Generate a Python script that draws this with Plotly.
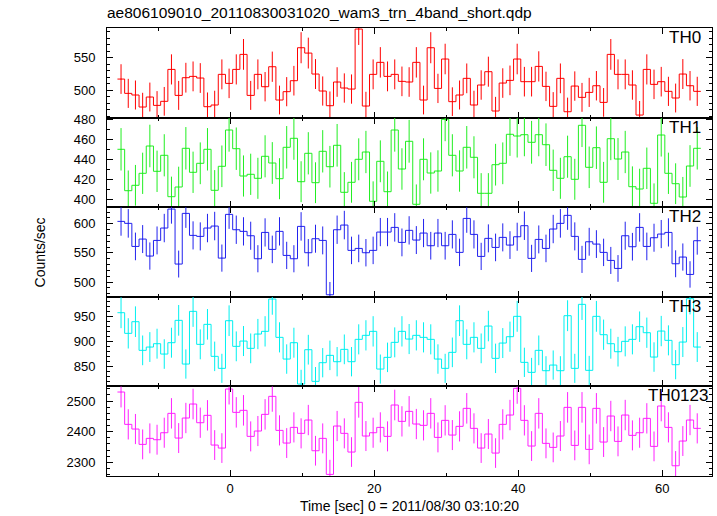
import numpy as np
import plotly.graph_objects as go
from plotly.subplots import make_subplots

# time bins (1 s wide), bin left edges start at -15.65 s
bin_start = -15.65
n_bins = 81

th0 = [517.3, 495.4, 492.9, 474.5, 489.8, 477.0, 483.2, 532.1, 492.3, 519.4,
       521.4, 518.9, 475.0, 477.6, 524.5, 510.7, 532.1, 555.1, 492.3, 524.5,
       505.6, 536.2, 485.2, 498.0, 514.8, 565.3, 557.1, 525.0, 499.0, 476.5,
       512.8, 503.6, 502.0, 593.9, 476.0, 524.5, 542.9, 521.4, 524.5, 513.8,
       512.8, 542.9, 485.2, 565.3, 503.0, 548.0, 482.7, 492.9, 518.4, 477.6,
       508.2, 528.6, 468.4, 511.2, 515.3, 548.0, 513.3, 513.3, 536.7, 506.1,
       475.5, 518.4, 467.3, 506.6, 489.3, 496.9, 507.1, 481.6, 555.1, 524.5,
       524.5, 508.2, 462.2, 532.1, 509.2, 513.3, 498.5, 488.3, 525.0, 507.1,
       498.5]

th1 = [450.0, 408.6, 414.0, 426.0, 453.3, 428.0, 444.0, 402.6, 412.3, 451.0,
       427.0, 436.0, 450.0, 409.0, 433.0, 469.3, 450.6, 423.3, 425.0, 421.0,
       443.0, 436.3, 420.6, 452.0, 461.0, 417.6, 446.0, 416.6, 448.0, 432.6,
       454.0, 407.0, 417.0, 440.0, 447.3, 398.0, 438.0, 407.6, 469.3, 430.3,
       458.0, 395.0, 440.0, 426.3, 428.3, 480.0, 444.0, 428.3, 452.0, 442.0,
       406.0, 406.0, 434.6, 436.0, 465.0, 463.3, 464.6, 457.0, 464.6, 454.6,
       429.0, 421.0, 442.6, 420.0, 474.0, 432.0, 451.6, 417.0, 460.6, 440.3,
       447.3, 412.6, 410.3, 431.0, 396.0, 464.3, 426.0, 415.6, 402.3, 433.3,
       451.0]

th2 = [604.0, 600.6, 561.1, 573.7, 544.6, 571.4, 592.6, 625.1, 530.9, 617.7,
       580.0, 578.3, 592.6, 596.0, 541.1, 616.0, 589.7, 586.9, 579.4, 540.0,
       585.1, 556.0, 586.9, 545.7, 540.0, 595.4, 550.3, 574.3, 571.4, 478.3,
       589.7, 597.7, 554.3, 557.7, 550.3, 554.3, 585.7, 585.7, 593.7, 568.0,
       588.6, 572.0, 584.0, 562.3, 584.0, 562.3, 581.7, 550.9, 609.1, 581.7,
       544.0, 574.9, 559.4, 576.6, 563.4, 577.7, 596.6, 540.6, 573.1, 557.7,
       590.9, 600.6, 614.3, 578.3, 538.9, 569.1, 565.1, 550.9, 537.1, 523.4,
       579.4, 560.6, 593.7, 561.1, 576.0, 582.3, 585.1, 531.4, 542.9, 513.1,
       570.9]

th3 = [958.0, 916.7, 940.0, 882.7, 889.3, 896.0, 875.3, 898.0, 942.7, 855.3,
       960.7, 894.7, 934.7, 870.7, 846.7, 942.0, 890.7, 901.3, 886.7, 915.3,
       920.7, 985.3, 908.7, 865.3, 898.0, 815.3, 884.0, 820.7, 858.0, 872.7,
       860.0, 884.7, 860.0, 904.7, 912.7, 920.7, 845.3, 868.7, 898.7, 920.7,
       905.3, 912.7, 908.7, 904.7, 865.3, 846.7, 878.7, 942.0, 894.7, 908.7,
       886.7, 931.3, 866.7, 897.3, 910.0, 950.7, 858.7, 838.7, 882.7, 842.0,
       853.3, 842.0, 952.0, 846.7, 974.7, 842.7, 950.7, 914.0, 896.0, 880.0,
       900.7, 904.7, 930.0, 918.0, 869.3, 921.3, 902.7, 854.0, 899.3, 986.0,
       889.3]

th0123 = [2529.3, 2423.9, 2408.7, 2358.7, 2378.3, 2373.9, 2396.7, 2459.8, 2379.3, 2444.6,
          2490.2, 2429.3, 2453.3, 2356.5, 2346.7, 2539.1, 2463.0, 2469.6, 2384.8, 2402.2,
          2456.5, 2515.2, 2404.3, 2363.0, 2414.1, 2394.6, 2438.0, 2338.0, 2378.3, 2260.9,
          2418.5, 2394.6, 2333.7, 2495.7, 2385.9, 2396.7, 2414.1, 2384.8, 2487.0, 2433.7,
          2466.3, 2425.0, 2420.7, 2459.8, 2381.5, 2437.0, 2389.1, 2417.4, 2476.1, 2410.9,
          2346.7, 2392.4, 2330.4, 2423.9, 2454.3, 2541.3, 2437.0, 2353.3, 2459.8, 2362.0,
          2348.9, 2385.9, 2479.3, 2355.4, 2479.3, 2342.4, 2476.1, 2366.3, 2451.1, 2368.5,
          2454.3, 2388.0, 2396.7, 2443.5, 2352.2, 2483.7, 2414.1, 2289.1, 2369.6, 2438.0,
          2410.9]

names = ["TH0", "TH1", "TH2", "TH3", "TH0123"]
series = [th0, th1, th2, th3, th0123]
colors = ["#ff0000", "#22ee22", "#2222ee", "#00f0f0", "#ff22ff"]
y_ranges = [[458.3, 595.5], [392.1, 481.7], [474.8, 628.3], [810.6, 989.8], [2255.7, 2547.6]]
y_major = [50, 20, 50, 50, 100]
y_minor = [10, 10, 10, 10, 20]
label_shift = [-9, -9, -9, -9, -2]

FONT = "Liberation Sans, Arial, Helvetica"

edges = [bin_start + i for i in range(n_bins + 1)]
centers = [bin_start + 0.5 + i for i in range(n_bins)]

fig = make_subplots(rows=5, cols=1, shared_xaxes=True, vertical_spacing=0)

for i, (nm, vals, c) in enumerate(zip(names, series, colors)):
    r = i + 1
    vals = list(vals)
    err = np.sqrt(np.array(vals))  # Poisson errors of 1-s bins
    fig.add_trace(go.Scatter(x=edges, y=vals + [vals[-1]], mode="lines",
                             line=dict(color=c, width=1, shape="hv"),
                             showlegend=False, hoverinfo="skip"), row=r, col=1)
    fig.add_trace(go.Scatter(x=centers, y=vals, mode="markers",
                             marker=dict(size=1, color=c),
                             error_y=dict(type="data", array=err, visible=True,
                                          color=c, thickness=1, width=0),
                             showlegend=False), row=r, col=1)
    fig.update_yaxes(row=r, col=1, range=y_ranges[i], dtick=y_major[i], tick0=0,
                     showline=True, linecolor="black", linewidth=1, mirror="allticks",
                     ticks="inside", ticklen=6, tickwidth=1, tickcolor="black",
                     ticklabelstandoff=8,
                     showgrid=False, zeroline=False,
                     minor=dict(dtick=y_minor[i], tick0=0, ticks="inside", ticklen=3,
                                tickcolor="black", showgrid=False),
                     tickfont=dict(family=FONT, size=13, color="black"))
    fig.add_annotation(text=nm, xref="x domain", yref="y domain" if r == 1 else f"y{r} domain",
                       x=1, y=1, xanchor="right", yanchor="top",
                       xshift=label_shift[i], yshift=2,
                       showarrow=False,
                       font=dict(family=FONT, size=17, color="black"))

fig.update_xaxes(range=[-17.1, 66.9], dtick=20, tick0=0,
                 showline=True, linecolor="black", linewidth=1, mirror="allticks",
                 ticks="inside", ticklen=6, tickwidth=1, tickcolor="black",
                 showgrid=False, zeroline=False,
                 minor=dict(dtick=10, tick0=0, ticks="inside", ticklen=3,
                            tickcolor="black", showgrid=False),
                 tickfont=dict(family=FONT, size=13, color="black"))
fig.update_xaxes(row=5, col=1, title=dict(text="Time [sec] 0 = 2011/08/30 03:10:20",
                                          font=dict(family=FONT, size=14, color="black"),
                                          standoff=6))

fig.add_annotation(text="Counts/sec", xref="paper", yref="paper", x=-0.11, y=0.5,
                   textangle=-90, showarrow=False, xanchor="center", yanchor="middle",
                   font=dict(family=FONT, size=14, color="black"))

fig.update_layout(
    width=717, height=516,
    margin=dict(l=107, r=5, t=28, b=40),
    paper_bgcolor="white", plot_bgcolor="white",
    title=dict(text="ae806109010_20110830031020_wam3_trn_4band_short.qdp",
               x=107 / 717, xanchor="left", y=1 - 13 / 516, yanchor="middle",
               font=dict(family=FONT, size=15.5, color="black")),
)

fig.write_html("out.html", config={"displayModeBar": False},
               post_script="document.body.style.margin='0px';document.body.style.padding='0px';")
